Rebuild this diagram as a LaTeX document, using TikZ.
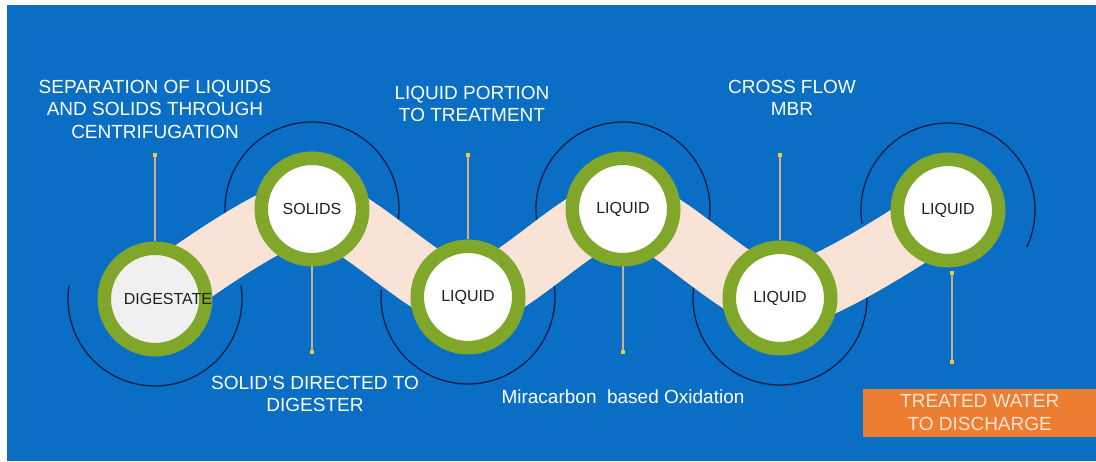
\documentclass[tikz,border=0pt]{standalone}
\usepackage{fontspec}
\setmainfont{Liberation Sans}
\definecolor{bgblue}{RGB}{10,110,196}
\definecolor{ringgreen}{RGB}{128,166,42}
\definecolor{ribbonpeach}{RGB}{249,226,214}
\definecolor{shellnavy}{RGB}{18,30,72}
\definecolor{digestgrey}{RGB}{240,240,240}
\definecolor{leadtan}{RGB}{200,178,140}
\definecolor{pinyellow}{RGB}{236,200,70}
\definecolor{discorange}{RGB}{237,125,49}
\definecolor{peachtext}{RGB}{252,228,214}
\begin{document}
\begin{tikzpicture}[x=1pt,y=1pt,
    stage/.style={circle,draw=ringgreen,line width=13.5pt,fill=white,minimum size=101.5pt,
        inner sep=0pt,text=black!88,font=\fontsize{16}{19}\selectfont},
    shell/.style={draw=shellnavy,line width=1.3pt},
    ribbon/.style={draw=ribbonpeach,line width=63pt},
    leader/.style={draw=leadtan,line width=1.5pt},
    pin/.style={fill=pinyellow,minimum size=4.5pt,inner sep=0pt},
    caption/.style={text=white,align=center,font=\fontsize{19}{22.5}\selectfont}]

        \useasboundingbox (0,0) rectangle (1096,462);
        %% background
        \fill[white] (0,0) rectangle (1096,462);
        \fill[bgblue] (7,1) rectangle (1096,457);
        %% centres of the stages
        \coordinate (c1) at (155,163);
        \coordinate (c2) at (312,253);
        \coordinate (c3) at (468,165);
        \coordinate (c4) at (623,253);
        \coordinate (c5) at (780,164);
        \coordinate (c6) at (948,252);
        %% shells
        \draw[shell] (c1) ++(171:87) arc[start angle=171,end angle=369,radius=87];
        \draw[shell] (c2) ++(189:87) arc[start angle=189,end angle=-7,radius=87];
        \draw[shell] (c3) ++(175:87) arc[start angle=175,end angle=372,radius=87];
        \draw[shell] (c4) ++(189:87) arc[start angle=189,end angle=-7,radius=87];
        \draw[shell] (c5) ++(170:87) arc[start angle=170,end angle=368,radius=87];
        \draw[shell] (c6) ++(189:87) arc[start angle=189,end angle=-25,radius=87];
        %% ribbon
        \draw[ribbon] plot[smooth,tension=0.45] coordinates {(c1) (c2) (c3) (c4) (c5) (c6)};
        %% stages
        \node[stage,fill=digestgrey] (dig) at (c1) {};
        \node[text=black!88,font=\fontsize{16}{19}\selectfont] (diglabel) at ([xshift=13pt]c1) {DIGESTATE};
        \node[stage] (sol) at (c2) {SOLIDS};
        \node[stage] (liqa) at (c3) {LIQUID};
        \node[stage] (liqb) at (c4) {LIQUID};
        \node[stage] (liqc) at (c5) {LIQUID};
        \node[stage] (liqd) at (c6) {LIQUID};
        %% pins and leaders
        \node[pin] (pa) at (155,307) {};
        \draw[leader] (pa) -- (dig);
        \node[pin] (pb) at (312,110) {};
        \draw[leader] (pb) -- (sol);
        \node[pin] (pc) at (468,307) {};
        \draw[leader] (pc) -- (liqa);
        \node[pin] (pd) at (623,110) {};
        \draw[leader] (pd) -- (liqb);
        \node[pin] (pe) at (780,307) {};
        \draw[leader] (pe) -- (liqc);
        \node[pin] (pf) at (952,189) {};
        \node[pin] (pg) at (952,100) {};
        \draw[leader] (pf) -- (pg);
        %% captions
        \node[caption] (capa) at (155,353) {SEPARATION OF LIQUIDS\\AND SOLIDS THROUGH\\CENTRIFUGATION};
        \node[caption] (capb) at (315,68) {SOLID'S DIRECTED TO\\DIGESTER};
        \node[caption] (capc) at (472,358) {LIQUID PORTION\\TO TREATMENT};
        \node[caption] (capd) at (623,65) {Miracarbon\ \ based Oxidation};
        \node[caption] (cape) at (792,364) {CROSS FLOW\\MBR};
        \node[caption,text=peachtext,fill=discorange,anchor=south west,
            minimum width=233pt,minimum height=48pt,inner sep=0pt] (outlet) at (863,25)
            {TREATED WATER\\TO DISCHARGE};
    \end{tikzpicture}
\end{document}
